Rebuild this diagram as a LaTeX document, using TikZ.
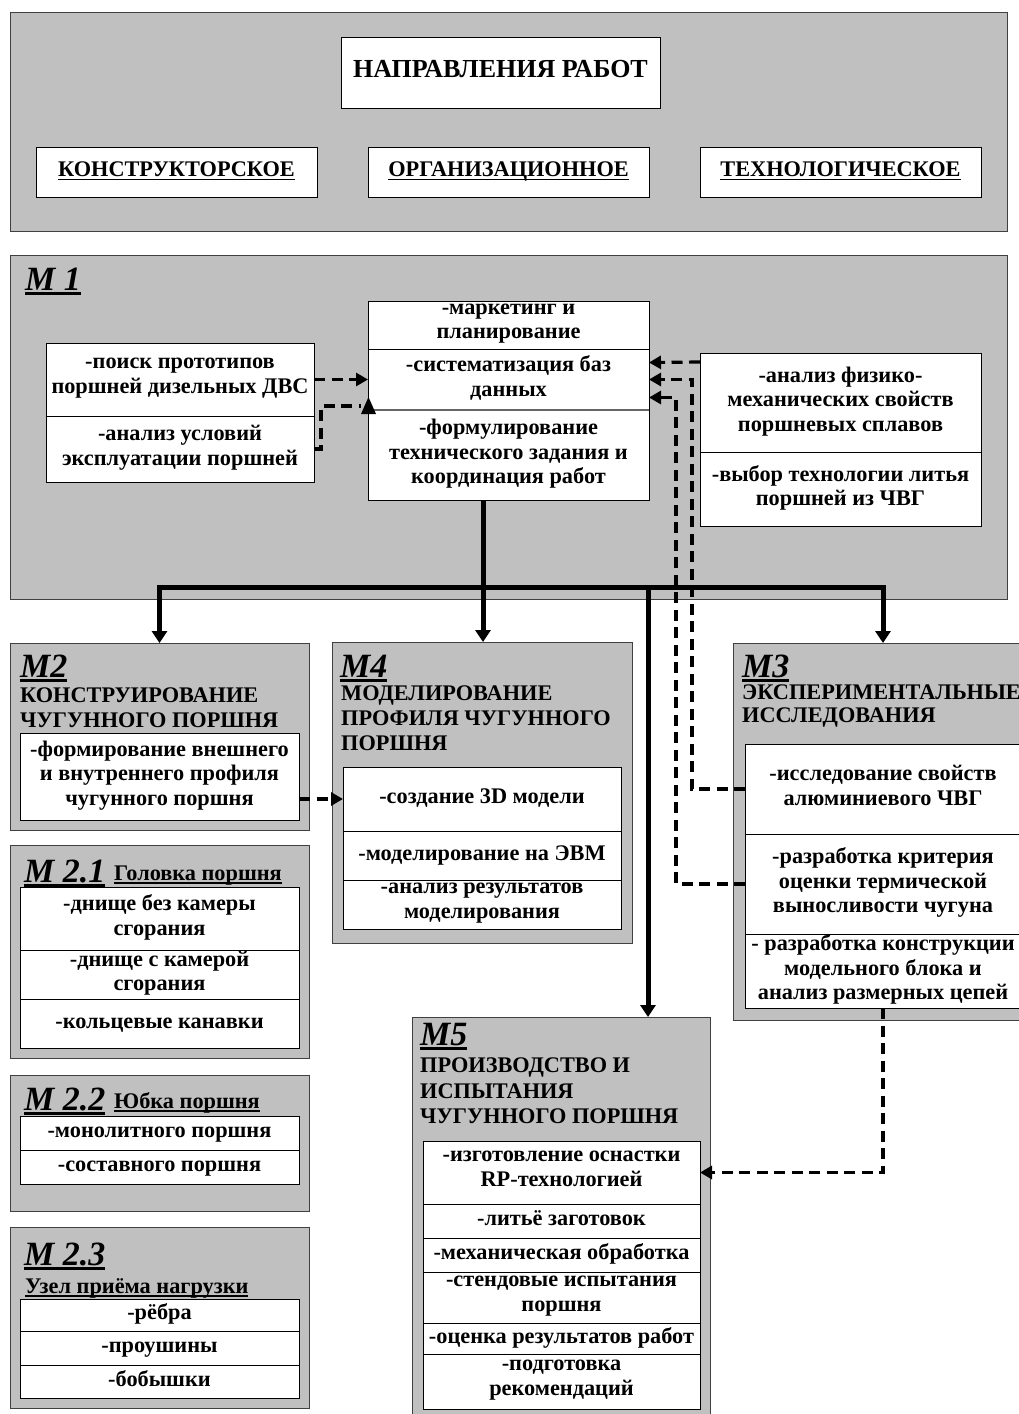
\documentclass[tikz,border=0pt]{standalone}
\usepackage{fontspec}
\setmainfont{Liberation Serif}
\usetikzlibrary{arrows.meta,calc}
\definecolor{pg}{RGB}{192,192,192}
\newcommand{\bodyfs}{\fontsize{22.3}{24.5}\selectfont\bfseries}
\newcommand{\mlabfs}{\fontsize{34}{36}\selectfont\bfseries\itshape}
\newcommand{\titlefs}{\fontsize{22.3}{25}\selectfont\bfseries}
\newcommand{\myul}[3]{\setbox0=\hbox{#3}\leavevmode\rlap{\rule[-#2]{\wd0}{#1}}\box0}
\newcommand{\mycell}[6]{\node[cell,minimum width={(#4-#2)*1pt},minimum height={(#5-#3)*1pt}] (#1) at (#2,#3) {#6};}
\newcommand{\mypanel}[5]{\node[panel,minimum width={(#4-#2)*1pt},minimum height={(#5-#3)*1pt}] (#1) at (#2,#3) {};}
\tikzset{
  panel/.style={draw=black!75, fill=pg, line width=0.9pt, anchor=north west, inner sep=0pt, outer sep=0pt},
  cell/.style={draw=black, fill=white, line width=1pt, anchor=north west, inner sep=0pt, outer sep=0pt, align=center, font=\bodyfs,
    execute at begin node={\strut}, execute at end node={\strut}},
  lab/.style={anchor=base west, inner sep=0pt, font=\mlabfs},
  ttl/.style={anchor=base west, inner sep=0pt, font=\titlefs},
  sub/.style={anchor=base west, inner sep=0pt, font=\bodyfs},
  busline/.style={line width=5pt, -{Triangle[length=12pt,width=15pt]}},
  dl/.style={line width=3.2pt, dash pattern=on 11pt off 6.5pt},
  dla/.style={dl, -{Triangle[length=12pt,width=13pt]}},
}
\begin{document}
\begin{tikzpicture}[x=1pt,y=-1pt]
\useasboundingbox[fill=white] (0,0) rectangle (1019,1414);

% ---------- top panel ----------
\mypanel{top}{10}{12}{1007}{231}
\mycell{nap}{341}{37}{660}{108}{\fontsize{26}{28}\selectfont НАПРАВЛЕНИЯ РАБОТ}
\mycell{kon}{36}{147}{317}{197}{\fontsize{22.3}{24}\selectfont\myul{1.4pt}{3.5pt}{КОНСТРУКТОРСКОЕ}}
\mycell{org}{368}{147}{649}{197}{\fontsize{22.3}{24}\selectfont\myul{1.4pt}{3.5pt}{ОРГАНИЗАЦИОННОЕ}}
\mycell{teh}{700}{147}{981}{197}{\fontsize{22.3}{24}\selectfont\myul{1.4pt}{3.5pt}{ТЕХНОЛОГИЧЕСКОЕ}}

% ---------- M1 ----------
\mypanel{m1}{10}{255}{1007}{599}
\node[lab] (m1lab) at (25,290) {\myul{2.8pt}{4.5pt}{М 1}};
\mycell{m1l1}{46}{343}{314}{416}{-поиск прототипов\\поршней дизельных ДВС}
\mycell{m1l2}{46}{416}{314}{482}{-анализ условий\\эксплуатации поршней}
\mycell{m1a}{368}{301}{649}{349}{-маркетинг и\\планирование}
\mycell{m1b}{368}{349}{649}{410}{-систематизация баз\\данных}
\mycell{m1c}{368}{410}{649}{500}{-формулирование\\технического задания и\\координация работ}
\draw[line width=2.5pt, black!60] (m1c.north west) -- (m1c.north east);
\mycell{m1r1}{700}{353}{981}{452}{-анализ физико-\\механических свойств\\поршневых сплавов}
\mycell{m1r2}{700}{452}{981}{526}{-выбор технологии литья\\поршней из ЧВГ}

% ---------- M2 ----------
\mypanel{m2}{10}{643}{309}{830}
\node[lab] (m2lab) at (20,677) {\myul{2.8pt}{4.5pt}{М2}};
\node[ttl] (m2t1) at (20,702) {КОНСТРУИРОВАНИЕ};
\node[ttl] (m2t2) at (20,727) {ЧУГУННОГО ПОРШНЯ};
\mycell{m2in}{20}{733}{299}{820}{-формирование внешнего\\и внутреннего профиля\\чугунного поршня}

% ---------- M4 ----------
\mypanel{m4}{332}{642}{632}{943}
\node[lab] (m4lab) at (340,677) {\myul{2.8pt}{4.5pt}{М4}};
\node[ttl] (m4t1) at (341,700) {МОДЕЛИРОВАНИЕ};
\node[ttl] (m4t2) at (341,725) {ПРОФИЛЯ ЧУГУННОГО};
\node[ttl] (m4t3) at (341,750) {ПОРШНЯ};
\mycell{m4a}{343}{767}{621}{831}{-создание 3D модели}
\mycell{m4b}{343}{831}{621}{880}{-моделирование на ЭВМ}
\mycell{m4c}{343}{880}{621}{929}{-анализ результатов\\моделирования}

% ---------- M3 ----------
\mypanel{m3}{733}{643}{1033}{1020}
\node[lab] (m3lab) at (742,677) {\myul{2.8pt}{4.5pt}{М3}};
\node[ttl] (m3t1) at (742,699) {ЭКСПЕРИМЕНТАЛЬНЫЕ};
\node[ttl] (m3t2) at (742,722) {ИССЛЕДОВАНИЯ};
\mycell{m3a}{745}{744}{1021}{834}{-исследование свойств\\алюминиевого ЧВГ}
\mycell{m3b}{745}{834}{1021}{934}{-разработка критерия\\оценки термической\\выносливости чугуна}
\mycell{m3c}{745}{934}{1021}{1008}{- разработка конструкции\\модельного блока и\\анализ размерных цепей}

% ---------- M5 ----------
\mypanel{m5}{412}{1017}{710}{1440}
\node[lab] (m5lab) at (420,1045) {\myul{2.8pt}{4.5pt}{М5}};
\node[ttl] (m5t1) at (420,1072) {ПРОИЗВОДСТВО И};
\node[ttl] (m5t2) at (420,1098) {ИСПЫТАНИЯ};
\node[ttl] (m5t3) at (420,1123) {ЧУГУННОГО ПОРШНЯ};
\mycell{m5a}{423}{1141}{700}{1204}{-изготовление оснастки\\RP-технологией}
\mycell{m5b}{423}{1204}{700}{1238}{-литьё заготовок}
\mycell{m5c}{423}{1238}{700}{1272}{-механическая обработка}
\mycell{m5d}{423}{1272}{700}{1323}{-стендовые испытания\\поршня}
\mycell{m5e}{423}{1323}{700}{1354}{-оценка результатов работ}
\mycell{m5f}{423}{1354}{700}{1409}{-подготовка\\рекомендаций}

% ---------- M2.1 ----------
\mypanel{m21}{10}{845}{309}{1058}
\node[lab] (m21lab) at (24,882) {\myul{2.8pt}{4.5pt}{М 2.1}};
\node[sub] (m21s) at (114,880) {\myul{1.4pt}{3.5pt}{Головка поршня}};
\mycell{m21a}{20}{887}{299}{950}{-днище без камеры\\сгорания}
\mycell{m21b}{20}{950}{299}{999}{-днище с камерой\\сгорания}
\mycell{m21c}{20}{999}{299}{1048}{-кольцевые канавки}

% ---------- M2.2 ----------
\mypanel{m22}{10}{1075}{309}{1211}
\node[lab] (m22lab) at (24,1110) {\myul{2.8pt}{4.5pt}{М 2.2}};
\node[sub] (m22s) at (114,1108) {\myul{1.4pt}{3.5pt}{Юбка поршня}};
\mycell{m22a}{20}{1116}{299}{1150}{-монолитного поршня}
\mycell{m22b}{20}{1150}{299}{1184}{-составного поршня}

% ---------- M2.3 ----------
\mypanel{m23}{10}{1227}{309}{1408}
\node[lab] (m23lab) at (24,1265) {\myul{2.8pt}{4.5pt}{М 2.3}};
\node[sub] (m23s) at (25,1293) {\myul{1.4pt}{3.5pt}{Узел приёма нагрузки}};
\mycell{m23a}{20}{1299}{299}{1331}{-рёбра}
\mycell{m23b}{20}{1331}{299}{1365}{-проушины}
\mycell{m23c}{20}{1365}{299}{1398}{-бобышки}

% ---------- thick bus ----------
\coordinate (bus) at (483,587);
\coordinate (tap5) at (648,587);
\draw[line width=5pt] (bus |- m1c.south) -- (bus);
\draw[busline] (bus) -| (m2.north);
\draw[busline] (bus) -| (m3.north);
\draw[busline] (bus) -- (bus |- m4.north);
\draw[busline] (tap5) -- (tap5 |- m5.north);

% ---------- dashed connectors ----------
\draw[dla] (m1l1.east) -- (m1l1.east -| m1b.west);
\draw[dl] (m1l2.east) -- ++(7,0) |- ($(m1c.north west)+(-7,-4)$);
\fill (361,414) -- (376,414) -- (368.5,397) -- cycle;
\draw[dla] ($(m1r1.north west)+(0,9)$) -- ($(m1b.east)+(0,-17)$);
\draw[dla] (m3a.west) -| ($(m1b.east)+(43,0)$) -- (m1b.east);
\draw[dla] (m3b.west) -| ($(m1b.east)+(27,18)$) -- ($(m1b.east)+(0,18)$);
\draw[dla] (m4a.west -| m2in.east) -- (m4a.west);
\draw[dla] (m3c.south) |- (m5a.east);
\end{tikzpicture}
\end{document}
